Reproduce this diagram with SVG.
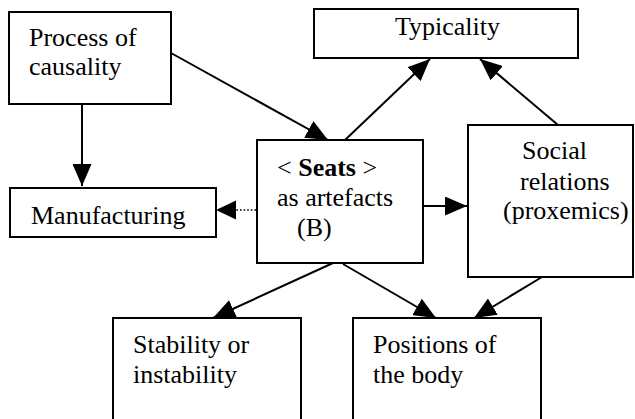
<svg xmlns="http://www.w3.org/2000/svg" width="635" height="419" viewBox="0 0 635 419">
<style>
.box{fill:#fff;stroke:#000;stroke-width:2}
.c{fill:none;stroke:#000;stroke-width:2}
.d{fill:none;stroke:#000;stroke-width:1.6;stroke-dasharray:1.6 2}
</style>
<defs>
<marker id="ah" markerUnits="userSpaceOnUse" markerWidth="22" markerHeight="19" refX="22" refY="9.5" orient="auto" viewBox="0 0 22 19">
<path d="M0,0 L22,9.5 L0,19 z" fill="#000"/>
</marker>
</defs>
<rect width="635" height="419" fill="#fff"/>
<g id="connectors">
<line class="c" x1="82" y1="104" x2="82" y2="186" marker-end="url(#ah)"/>
<line class="c" x1="171" y1="53" x2="328" y2="140" marker-end="url(#ah)"/>
<line class="c" x1="345" y1="140" x2="430" y2="59" marker-end="url(#ah)"/>
<line class="c" x1="558" y1="125" x2="480" y2="59" marker-end="url(#ah)"/>
<line class="c" x1="424" y1="206" x2="467" y2="206" marker-end="url(#ah)"/>
<line class="d" x1="256" y1="210" x2="236" y2="210"/>
<path d="M236,200.5 L216,210 L236,219.5 z" fill="#000"/>
<line class="c" x1="333" y1="263" x2="213" y2="318" marker-end="url(#ah)"/>
<line class="c" x1="343" y1="264" x2="436" y2="318" marker-end="url(#ah)"/>
<line class="c" x1="542" y1="277" x2="474" y2="318" marker-end="url(#ah)"/>
</g>
<g font-family="Liberation Serif" font-size="26" fill="#000">
<g id="process">
<rect class="box" x="9" y="12" width="162" height="92"/>
<text x="29" y="46">Process of</text>
<text x="29" y="75">causality</text>
</g>
<g id="typicality">
<rect class="box" x="314" y="9" width="264" height="49"/>
<text x="395" y="35">Typicality</text>
</g>
<g id="manufacturing">
<rect class="box" x="10" y="188" width="206" height="49"/>
<text x="31" y="224">Manufacturing</text>
</g>
<g id="seats">
<rect class="box" x="257" y="140" width="166" height="123"/>
<text x="277" y="176">&lt; <tspan font-weight="bold">Seats</tspan> &gt;</text>
<text x="277" y="206">as artefacts</text>
<text x="297" y="236">(B)</text>
</g>
<g id="social">
<rect class="box" x="468" y="125" width="165" height="152"/>
<text x="522" y="159">Social</text>
<text x="520" y="190">relations</text>
<text x="503" y="219">(proxemics)</text>
</g>
<g id="stability">
<rect class="box" x="113" y="318" width="188" height="120"/>
<text x="133" y="353">Stability or</text>
<text x="133" y="383">instability</text>
</g>
<g id="positions">
<rect class="box" x="353" y="318" width="188" height="120"/>
<text x="373" y="353">Positions of</text>
<text x="373" y="383">the body</text>
</g>
</g>
</svg>
